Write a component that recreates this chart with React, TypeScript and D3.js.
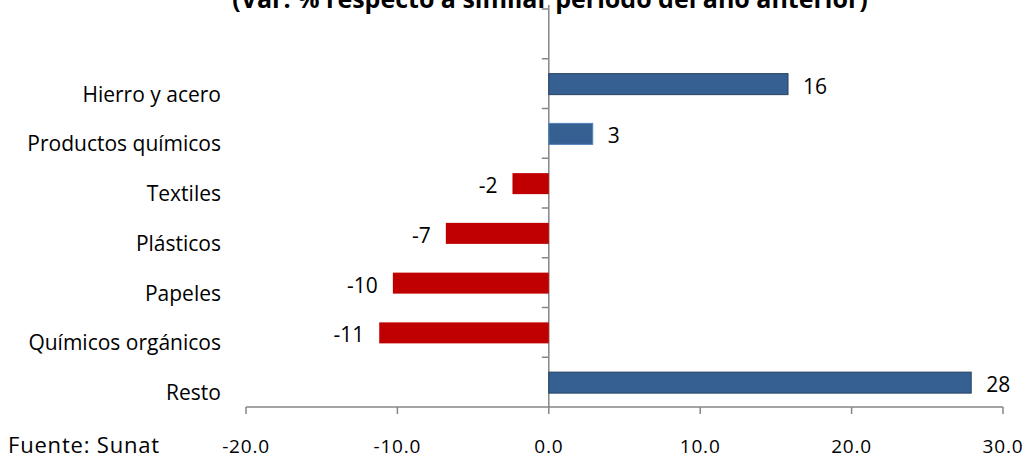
import * as React from 'react'
import * as d3 from 'd3'

// data
const categories = ['', 'Hierro y acero', 'Productos químicos', 'Textiles', 'Plásticos', 'Papeles', 'Químicos orgánicos', 'Resto']
const values = [null, 15.8, 2.9, -2.4, -6.8, -10.3, -11.2, 27.9]
const valueLabels = ['', '16', '3', '-2', '-7', '-10', '-11', '28']
const xTicks = [-20, -10, 0, 10, 20, 30]

const W = 1028
const H = 459
const FONT = "'Open Sans', sans-serif"

export default function App() {
  const x = d3.scaleLinear().domain([-20, 30]).range([246, 1003])
  const y = d3.scaleBand<string>().domain(categories.map((c, i) => String(i))).range([9, 407])
  const bh = 21
  const axisColor = '#868686'
  const x0 = x(0)
  const fmt = (t: number) => t.toFixed(1)
  const mid = (i: number) => y(String(i))! + y.bandwidth() / 2

  return (
    <svg width={W} height={H} style={{ position: 'absolute', left: 0, top: 0, background: '#fff' }} fontFamily={FONT}>
      {/* category axis */}
      <line x1={x0} x2={x0} y1={y.range()[0] - 4} y2={407} stroke={axisColor} strokeWidth={1.5} />
      {categories.map((c, i) => (
        <line key={'yt' + i} x1={x0 - 7} x2={x0} y1={y(String(i))!} y2={y(String(i))!} stroke={axisColor} strokeWidth={1.5} />
      ))}
      {/* value axis */}
      <line x1={x(-20)} x2={x(30)} y1={407} y2={407} stroke={axisColor} strokeWidth={1.5} />
      {xTicks.map(t => (
        <g key={'xt' + t}>
          <line x1={x(t)} x2={x(t)} y1={407} y2={414} stroke={axisColor} strokeWidth={1.5} />
          <text x={x(t)} y={453} textAnchor="middle" fontSize={19} letterSpacing={0.8} fill="#000">{fmt(t)}</text>
        </g>
      ))}
      {/* bars */}
      {values.map((v, i) => {
        if (v === null) return null
        const cy = mid(i) + 0.5
        const pos = v >= 0
        const x1 = Math.min(x(v), x0)
        const w = Math.abs(x(v) - x0)
        return (
          <g key={'b' + i}>
            <rect x={x1} y={cy - bh / 2} width={w} height={bh}
              fill={pos ? '#376092' : '#C00000'}
              stroke={pos ? (i === 2 ? '#4F81BD' : '#254061') : 'none'} strokeWidth={1} />
            <text x={pos ? x(v) + 15 : x(v) - 15} y={cy + 9.5}
              textAnchor={pos ? 'start' : 'end'} fontSize={21} fill="#000">{valueLabels[i]}</text>
          </g>
        )
      })}
      {/* category labels */}
      {categories.map((c, i) => (
        <text key={'cl' + i} x={221} y={mid(i) + 18}
          textAnchor="end" fontSize={21} fill="#000">{c}</text>
      ))}
      <text x={550} y={8} textAnchor="middle" fontSize={25} fontWeight="bold" fill="#000">(Var. % respecto a similar periodo del año anterior)</text>
      <text x={8} y={453} fontSize={22} letterSpacing={0.8} fill="#000">Fuente: Sunat</text>
    </svg>
  )
}
